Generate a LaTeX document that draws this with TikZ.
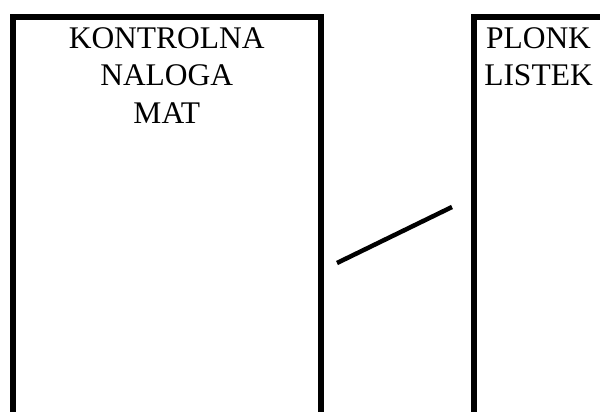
\documentclass[tikz,border=0pt]{standalone}
\usepackage{fontspec}
\setmainfont{Liberation Serif}
\usepackage{tikz}
\usetikzlibrary{positioning}

\begin{document}
\begin{tikzpicture}[
  x=1pt, y=-1pt,
  box/.style={draw=black, line width=6pt, fill=white, inner sep=0pt},
  lbl/.style={align=center, inner sep=0pt, font=\fontsize{31.5}{37.5}\selectfont},
  lk/.style={line width=4.5pt, black},
]
\useasboundingbox (0,0) rectangle (600,412);
\clip (0,0) rectangle (600,412);
% Boxes
\node[box, anchor=north west, minimum width=307.5pt, minimum height=420pt]
  (kont) at (10,14) {};
\node[box, anchor=north west, minimum width=130pt, minimum height=420pt]
  (plonk) at (470.5,14) {};
\node[lbl, below=13pt of kont.north] (kontlbl) {KONTROLNA\\NALOGA\\MAT};
\node[lbl, below=13pt of plonk.north] (plonklbl) {PLONK\\LISTEK};
% Link
\coordinate (lkstart) at (337,263);
\coordinate (lkend) at (452,207);
\draw[lk] (lkstart) -- (lkend);
\end{tikzpicture}
\end{document}
